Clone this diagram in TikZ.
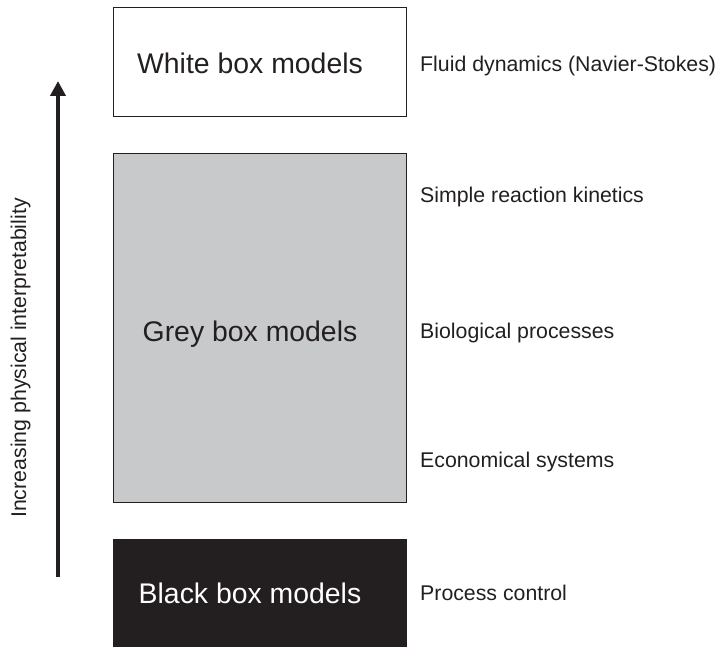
\documentclass[tikz,border=0pt]{standalone}
\usepackage{fontspec}
\setmainfont{Liberation Sans}
\usetikzlibrary{arrows.meta}
\definecolor{inkdark}{HTML}{231F20}
\definecolor{boxgrey}{HTML}{C8C9CB}
\tikzset{
  modelbox/.style={draw=inkdark, line width=1pt, rectangle, inner sep=0pt,
    minimum width=293pt},
  boxlabel/.style={font=\fontsize{28.4}{34}\selectfont, anchor=base, inner sep=0pt},
  sidelabel/.style={font=\fontsize{21.3}{26}\selectfont, anchor=base west,
    inner sep=0pt, text=inkdark},
}
\begin{document}
\begin{tikzpicture}[x=1pt,y=-1pt]
  \useasboundingbox (0,0) rectangle (717,647);

  % the three model classes
  \node[modelbox, fill=white, minimum height=109.5pt] (white) at (260,62.25) {};
  \node[modelbox, fill=boxgrey, minimum height=348pt] (grey) at (260,328) {};
  \node[modelbox, fill=inkdark, minimum height=110pt] (black) at (260,594) {};

  \node[boxlabel, text=inkdark] (whitetxt) at (250,73.2) {White box models};
  \node[boxlabel, text=inkdark] (greytxt) at (250,341) {Grey box models};
  \node[boxlabel, text=white] (blacktxt) at (250,603.2) {Black box models};

  % examples for each class
  \node[sidelabel] (fluid) at (420,71.6) {Fluid dynamics (Navier-Stokes)};
  \node[sidelabel] (kinetics) at (420,202.6) {Simple reaction kinetics};
  \node[sidelabel] (bio) at (420,338.6) {Biological processes};
  \node[sidelabel] (econ) at (420,467.1) {Economical systems};
  \node[sidelabel] (control) at (420,600.6) {Process control};

  % interpretability axis
  \coordinate (axislow) at (58,577);
  \coordinate (axishigh) at (58,81);
  \draw[inkdark, line width=4pt, -{Triangle[width=15pt,length=15pt]}] (axislow) -- (axishigh);
  \node[font=\fontsize{21.3}{26}\selectfont, text=inkdark, rotate=90, anchor=base,
    inner sep=0pt] (axistxt) at (26,358) {Increasing physical interpretability};
\end{tikzpicture}
\end{document}
